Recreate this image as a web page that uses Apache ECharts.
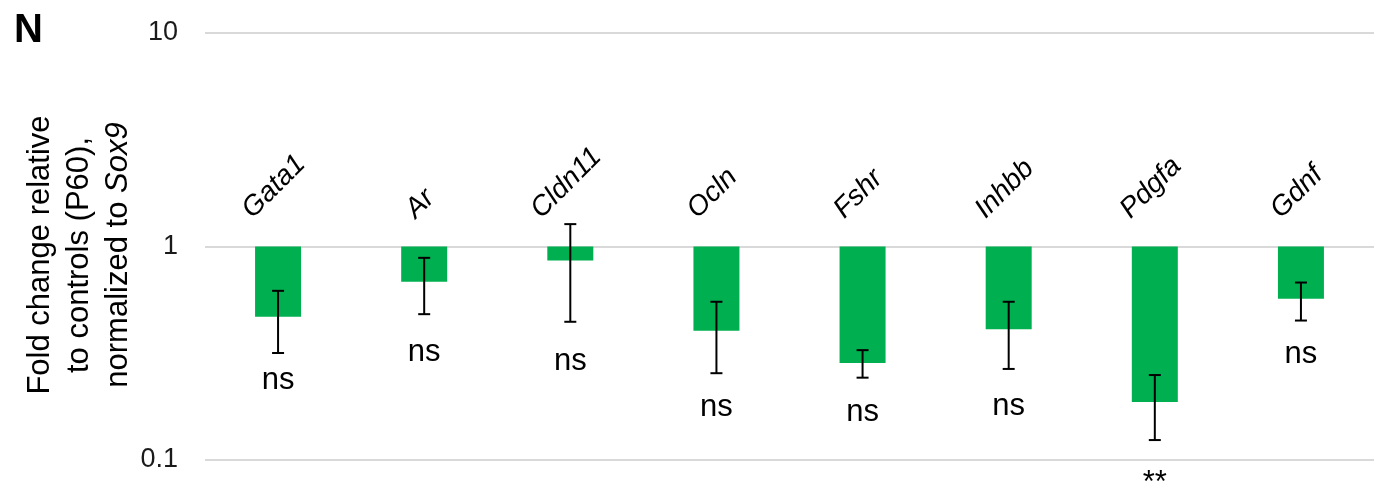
<!DOCTYPE html>
<html>
<head>
<meta charset="utf-8">
<script src="https://cdn.jsdelivr.net/npm/echarts@6/dist/echarts.min.js"></script>
<style>
  html, body { margin: 0; padding: 0; background: #fff; }
  #chart { width: 1374px; height: 482px; }
</style>
</head>
<body>
<div id="chart"></div>
<script>
// gene panel N, fold change vs controls (log scale)
var genes = ["Gata1", "Ar", "Cldn11", "Ocln", "Fshr", "Inhbb", "Pdgfa", "Gdnf"];
var foldChange = [0.469, 0.684, 0.860, 0.403, 0.285, 0.410, 0.187, 0.569];
var errLow = [0.317, 0.482, 0.444, 0.255, 0.243, 0.267, 0.124, 0.450];
var errHigh = [0.620, 0.885, 1.273, 0.551, 0.327, 0.551, 0.250, 0.678];
var sigText = ["ns", "ns", "ns", "ns", "ns", "ns", "**", "ns"];
var sigPos = [0.230, 0.311, 0.284, 0.172, 0.163, 0.175, 0.076, 0.305];
var yTicks = [0.1, 1, 10];

var FONT = '"Liberation Sans", Arial, sans-serif';
var GENE_SIZE = 28;

var measureCtx = document.createElement("canvas").getContext("2d");
measureCtx.font = "italic " + GENE_SIZE + "px " + FONT;

var myChart = echarts.init(document.getElementById("chart"));

var option = {
  animation: false,
  grid: {
    left: 205,
    top: 33,
    width: 1177,
    height: 427,
  },
  xAxis: {
    type: "category",
    data: genes,
    axisLine: { show: false },
    axisTick: { show: false },
    axisLabel: { show: false },
    splitLine: { show: false },
  },
  yAxis: {
    type: "log",
    logBase: 10,
    min: 0.1,
    max: 10,
    axisLine: { show: false },
    axisTick: { show: false },
    axisLabel: {
      margin: 27,
      color: "#1a1a1a",
      fontSize: 27,
      fontFamily: FONT,
      formatter: function (v) {
        for (var i = 0; i < yTicks.length; i++) {
          if (Math.abs(yTicks[i] - v) < 1e-9) return String(yTicks[i]);
        }
        return "";
      },
    },
    splitLine: {
      show: true,
      lineStyle: { color: "#d9d9d9", width: 2 },
    },
  },
  graphic: [
    {
      type: "text",
      left: 14,
      top: 11,
      style: {
        text: "N",
        fill: "#000",
        font: "bold 40px " + FONT,
      },
    },
    {
      type: "text",
      x: 79,
      y: 255,
      rotation: Math.PI / 2,
      style: {
        text: "Fold change relative\nto controls (P60),\nnormalized to {i|Sox9}",
        fill: "#000",
        font: "31px " + FONT,
        lineHeight: 39,
        align: "center",
        verticalAlign: "middle",
        rich: {
          i: { fontStyle: "italic", fontSize: 31, fontFamily: FONT, lineHeight: 39 },
        },
      },
    },
  ],
  series: [
    {
      name: "fold change",
      type: "bar",
      data: foldChange,
      barWidth: 46,
      itemStyle: { color: "#00b050" },
    },
    {
      name: "error",
      type: "custom",
      data: genes.map(function (g, i) {
        return [i, errLow[i], errHigh[i]];
      }),
      renderItem: function (params, api) {
        var lo = api.coord([api.value(0), api.value(1)]);
        var hi = api.coord([api.value(0), api.value(2)]);
        var half = 6;
        var st = { stroke: "#000", lineWidth: 2 };
        return {
          type: "group",
          children: [
            { type: "line", shape: { x1: hi[0], y1: hi[1], x2: lo[0], y2: lo[1] }, style: st },
            { type: "line", shape: { x1: hi[0] - half, y1: hi[1], x2: hi[0] + half, y2: hi[1] }, style: st },
            { type: "line", shape: { x1: lo[0] - half, y1: lo[1], x2: lo[0] + half, y2: lo[1] }, style: st },
          ],
        };
      },
      z: 5,
    },
    {
      name: "significance",
      type: "custom",
      data: genes.map(function (g, i) {
        return [i, sigPos[i]];
      }),
      renderItem: function (params, api) {
        var p = api.coord([api.value(0), api.value(1)]);
        return {
          type: "text",
          x: p[0],
          y: p[1] - 2,
          style: {
            text: sigText[params.dataIndex],
            fill: "#000",
            font: "31px " + FONT,
            align: "center",
            verticalAlign: "middle",
          },
        };
      },
      z: 5,
    },
    {
      name: "gene labels",
      type: "custom",
      data: genes.map(function (g, i) {
        return [i, 1];
      }),
      renderItem: function (params, api) {
        var p = api.coord([api.value(0), api.value(1)]);
        var name = genes[params.dataIndex];
        var w = measureCtx.measureText(name).width;
        var cy = p[1] - 25 - (w + 22) * 0.3536;
        return {
          type: "text",
          x: p[0] - 4,
          y: cy,
          rotation: Math.PI / 4,
          style: {
            text: name,
            fill: "#000",
            font: "italic " + GENE_SIZE + "px " + FONT,
            align: "center",
            verticalAlign: "middle",
          },
        };
      },
      z: 5,
    },
  ],
};

myChart.setOption(option);
window.addEventListener("resize", function () {
  myChart.resize();
});
</script>
</body>
</html>
